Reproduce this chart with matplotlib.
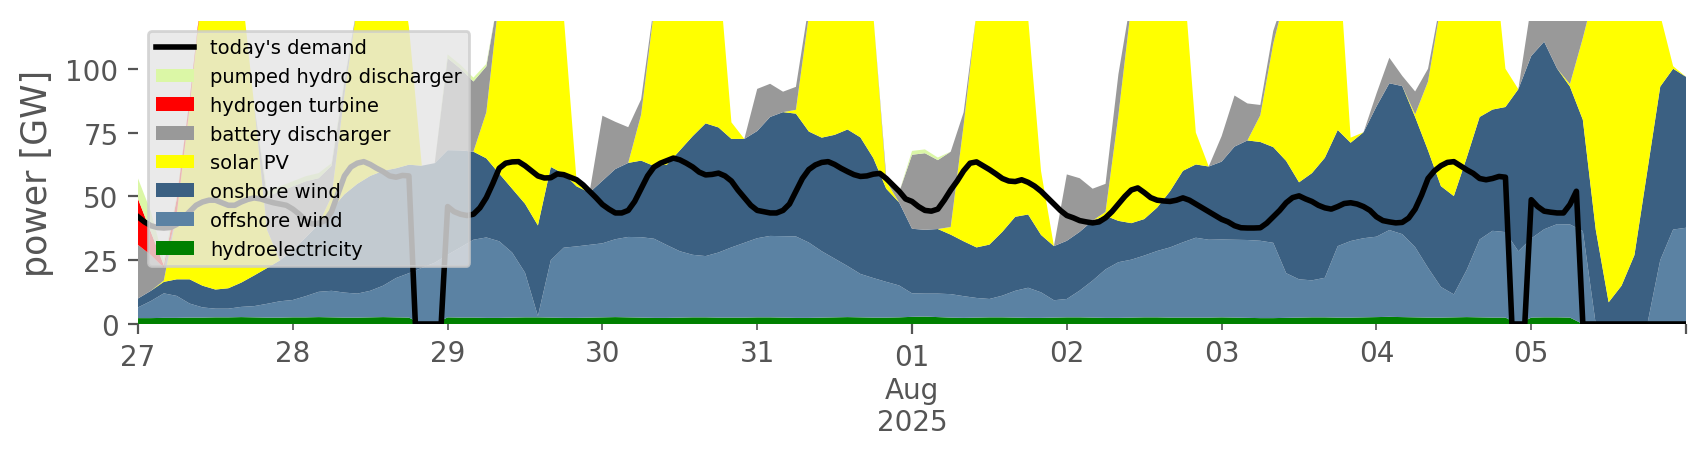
import pandas as pd
import matplotlib
matplotlib.use("Agg")
import matplotlib.pyplot as plt
import matplotlib.dates as mdates
from matplotlib.ticker import FixedLocator, FixedFormatter

# generation by source in GW, every 2 hours from 27 Jul 00:00 to 6 Aug 00:00
hydro = [2.3, 2.3, 2.4, 2.4, 2.5, 2.5, 2.6, 2.6, 2.7, 2.6, 2.5, 2.5,
         2.6, 2.6, 2.7, 2.6, 2.5, 2.5, 2.6, 2.7, 2.6, 2.5, 0, 0,
         2.6, 2.5, 2.5, 2.4, 2.4, 2.5, 2.6, 2.6, 2.5, 2.4, 2.4, 2.5,
         2.6, 2.7, 2.6, 2.5, 2.4, 2.4, 2.5, 2.6, 2.6, 2.5, 2.5, 2.5,
         2.6, 2.6, 2.5, 2.4, 2.4, 2.5, 2.6, 2.7, 2.6, 2.5, 2.5, 2.6,
         2.8, 2.9, 2.7, 2.5, 2.4, 2.5, 2.6, 2.6, 2.5, 2.4, 2.4, 2.5,
         2.6, 2.6, 2.5, 2.4, 2.4, 2.5, 2.6, 2.6, 2.5, 2.5, 2.5, 2.5,
         2.6, 2.5, 2.4, 2.3, 2.3, 2.4, 2.5, 2.6, 2.6, 2.5, 2.5, 2.6,
         2.7, 2.8, 2.7, 2.6, 2.5, 2.5, 2.6, 2.7, 2.6, 2.5, 2.5, 0,
         2.5, 2.6, 2.6, 2.5, 0, 0, 0, 0, 0, 0, 0, 0, 0]
offshore = [4.2, 6.7, 9.6, 8.6, 5.5, 4.0, 3.4, 3.4, 4.0, 4.4, 5.4, 6.4,
            6.8, 8.3, 9.9, 10.4, 9.8, 9.4, 10.4, 12.3, 15.4, 17.4, 22, 24,
            24.5, 27.5, 30.5, 31.5, 30, 25.5, 17.5, 0.5, 22.5, 27.5, 28, 28.5,
            29, 30.5, 31.5, 31.5, 31, 28.5, 26, 24.5, 24, 25.5, 27.5, 29.3,
            31, 31.9, 31.9, 31.9, 29.5, 26, 23, 20, 17, 15.5, 14, 12.5,
            9.2, 9, 9.2, 9.2, 8.5, 7.7, 7.2, 8.5, 10.5, 11.8, 10, 6.8,
            7.2, 10.5, 14.5, 19, 21.8, 22.7, 24.2, 26, 27.5, 29.5, 31.3, 30.5,
            30.5, 30.5, 30.5, 30.3, 29.5, 17.5, 15, 14.5, 15.5, 28, 30, 31,
            31.5, 34, 32.5, 27.5, 19.5, 12, 9, 18.5, 30.5, 34, 33.5, 28.5,
            31, 34.5, 36.5, 36.5, 36.4, 0, 0, 0, 0, 0, 25, 37, 37.7]
onshore = [3.5, 4, 4.5, 6.5, 9.5, 8.5, 7.5, 8, 9.5, 12, 14, 16,
           19.5, 23, 26.5, 32, 38.5, 43, 45, 45, 43, 42.5, 40, 39,
           41, 38, 34.5, 31, 26.5, 25, 27, 35.5, 36.5, 29, 23.5, 20.5,
           24.5, 27.5, 29, 30, 28.5, 31.5, 39.5, 46.5, 52, 49, 42.5, 40.7,
           42, 46.6, 48.6, 48.1, 43.5, 44.5, 48.5, 53.5, 53.5, 47, 36.5, 32.5,
           25.3, 25, 25.3, 23.3, 21.5, 19.8, 21.3, 25, 29, 28.7, 22.5, 21.2,
           22.8, 23, 23.5, 21, 16.2, 14.3, 14.3, 17, 22, 28, 28.7, 28.7,
           30.5, 36.5, 39, 38.7, 37.5, 44, 38, 42, 47, 45.5, 38.5, 41.5,
           51, 57.5, 58, 51, 46, 39.5, 38.5, 44, 48, 47.5, 49, 63.5,
           71.5, 73.5, 61, 54, 43.6, 37, 8.5, 15, 27, 60, 68, 63, 59.1]
solar = [0, 0, 0.5, 25.5, 67.5, 118, 115, 115, 117, 67, 15, 0,
         0, 0, 0, 5, 39, 70, 100, 104, 90, 54, 0, 0,
         0, 0, 0, 18, 69, 100, 108, 110, 100, 62, 2, 0,
         0, 0, 0, 18, 61, 95, 105, 108, 100, 63, 6.5, 0,
         0, 0, 0, 1.5, 45.5, 95, 105, 108, 100, 56, 3, 0,
         0, 0, 0, 3, 45.5, 92, 108, 110, 105, 77, 25, 0,
         0, 0, 0, 1.5, 41.5, 85.5, 100, 108, 108, 80, 12.5, 0,
         0, 0, 0, 10.5, 40.5, 66, 100, 108, 105, 74, 2, 0,
         0, 0, 0, 1, 27, 71, 100, 108, 105, 66, 15, 0,
         0, 0, 0, 1, 32, 95, 118, 115, 112, 105, 28, 1, 0]
battery = [21, 14, 5, 0, 0, 0, 0, 0, 0, 0, 13, 27,
           25, 22, 18, 12, 5, 0, 0, 0, 0, 0, 0, 0,
           36, 32, 27.5, 18, 2, 0, 0, 0, 0, 0, 0, 0,
           25.5, 18.5, 14, 6, 2, 0, 0, 0, 0, 0, 0, 0,
           16.5, 13, 8, 9, 4, 0, 0, 0, 0, 0, 2, 4,
           29, 30, 27, 29.5, 5, 0, 0, 0, 0, 0, 0, 0,
           26, 21, 12.5, 11, 16, 3, 0, 0, 0, 0, 0, 0,
           10, 20, 14.5, 4, 5, 0, 0, 0, 0, 0, 0, 0,
           5, 10, 4, 9, 5, 2, 0, 0, 0, 0, 0, 0,
           20, 24.5, 35, 36, 12, 0, 0, 0, 0, 0, 0, 0, 0]
hydrogen = [18, 9, 1, 6, 3, 0, 0, 0, 0, 0, 0, 0,
            0, 0, 0, 0, 0, 0, 0, 0, 0, 0, 0, 0,
            0, 0, 0, 0, 0, 0, 0, 0, 0, 0, 0, 0,
            0, 0, 0, 0, 0, 0, 0, 0, 0, 0, 0, 0,
            0, 0, 0, 0, 0, 0, 0, 0, 0, 0, 0, 0,
            0, 0, 0, 0, 0, 0, 0, 0, 0, 0, 0, 0,
            0, 0, 0, 0, 0, 0, 0, 0, 0, 0, 0, 0,
            0, 0, 0, 0, 0, 0, 0, 0, 0, 0, 0, 0,
            0, 0, 0, 0, 0, 0, 0, 0, 0, 0, 0, 0,
            0, 0, 0, 0, 0, 0, 0, 0, 0, 0, 0, 0, 0]
pumped = [8, 8, 2, 1, 0, 0, 0, 0, 0, 0, 2, 2,
          2, 2, 2, 1, 1, 0, 0, 0, 0, 0, 0, 0,
          1.5, 1.5, 1.5, 1, 0, 0, 0, 0, 0, 0, 0, 0,
          0, 0, 0, 0, 0, 0, 0, 0, 0, 0, 0, 0,
          0, 0, 0, 0, 0, 0, 0, 0, 0, 0, 0, 0,
          1.5, 1.5, 1, 0, 0, 0, 0, 0, 0, 0, 0, 0,
          0, 0, 0, 0, 0, 0, 0, 0, 0, 0, 0, 0,
          0, 0, 0, 0, 0, 0, 0, 0, 0, 0, 0, 0,
          0, 0, 0, 0, 0, 0, 0, 0, 0, 0, 0, 0,
          0, 0, 0, 0, 0, 0, 0, 0, 0, 0, 0, 0, 0]

# hourly demand in GW
demand = [42, 40, 38.5, 37.8, 37.6, 37.8, 39, 41.5, 44, 46.5, 47.8, 48.5,
          48.5, 47.5, 46.5, 46.5, 47.8, 48.8, 49.4, 49, 48.2, 47.5, 47, 46.5,
          45, 43, 40.5, 39.2, 39.5, 40.5, 44, 51, 58, 61.5, 63, 63.6,
          62.5, 61, 59.7, 58, 57.5, 58.2, 58, 0, 0, 0, 0, 0,
          46, 44, 43, 42.5, 43, 45.5, 49.5, 55, 61, 63, 63.5, 63.6,
          62, 60, 58, 57.2, 57.3, 58.8, 58.5, 57.5, 56.5, 54.5, 52, 49.5,
          46.8, 45, 43.5, 43.5, 44.5, 48, 53, 58, 61.5, 63, 64, 65,
          64.3, 63, 61.5, 59.5, 58.4, 58.6, 59.1, 58, 56, 52.5, 49.5, 46.5,
          44.5, 44, 43.5, 43.5, 44.5, 47, 52, 57, 60.5, 62.3, 63.3, 63.6,
          62.5, 61, 59.7, 58.5, 57.8, 58, 58.7, 59, 57, 54.5, 52, 49,
          48, 46, 44.5, 44.2, 45, 48.5, 52.5, 56, 60, 63, 63.5, 62,
          60.5, 58.8, 57, 56, 55.8, 56.5, 55.5, 54, 52, 49.5, 47, 44.5,
          42.5, 41.6, 40.5, 40, 39.6, 40, 41.6, 44, 47, 50, 52.5, 53.3,
          51.5, 49.5, 48.5, 48.2, 48, 48.5, 49.4, 48.5, 47, 45.5, 44, 42.5,
          41, 40, 38.5, 37.7, 37.6, 37.6, 37.7, 39.5, 42, 44.5, 47.5, 49.5,
          50.2, 49, 48, 46.5, 45.5, 45, 46, 47.2, 47.5, 47, 46, 44.5,
          42, 40.5, 40, 39.6, 39.8, 41.5, 45, 50.5, 57, 60, 62, 63.3,
          63.6, 62, 60.4, 59, 57, 56.5, 57, 57.8, 57.5, 0, 0, 0,
          48.7, 46, 44.2, 43.8, 43.5, 43.5, 46.8, 52, 0, 0, 0, 0,
          0, 0, 0, 0, 0, 0, 0, 0, 0, 0, 0, 0, 0]

area_index = pd.date_range("2025-07-27", periods=len(hydro), freq="2h")
demand_index = pd.date_range("2025-07-27", periods=len(demand), freq="h")

stack = [
    ("hydroelectricity", hydro, "green"),
    ("offshore wind", offshore, "#5b82a3"),
    ("onshore wind", onshore, "#3b6082"),
    ("solar PV", solar, "yellow"),
    ("battery discharger", battery, "#999999"),
    ("hydrogen turbine", hydrogen, "red"),
    ("pumped hydro discharger", pumped, "#dbf7a6"),
]

fig = plt.figure(figsize=(8.53, 2.3), dpi=200)
ax = fig.add_axes([0.0809, 0.2935, 0.9074, 0.6587])
ax.set_facecolor("white")

ax.stackplot(area_index.to_pydatetime(), *[s[1] for s in stack],
             labels=[s[0] for s in stack], colors=[s[2] for s in stack],
             linewidth=0)
ax.plot(demand_index.to_pydatetime(), demand, color="black", lw=2,
        label="today's demand")

days = pd.date_range("2025-07-27", "2025-08-06", freq="D").to_pydatetime()
major_days = [days[0], days[5], days[10]]
minor_days = [d for d in days if d not in major_days]
ax.xaxis.set_major_locator(FixedLocator(mdates.date2num(major_days)))
ax.xaxis.set_major_formatter(FixedFormatter(["27", "01\nAug\n2025", ""]))
ax.xaxis.set_minor_locator(FixedLocator(mdates.date2num(minor_days)))
ax.xaxis.set_minor_formatter(FixedFormatter([d.strftime("%d") for d in minor_days]))
ax.set_xlim(mdates.date2num(days[0]), mdates.date2num(days[-1]))

ax.set_ylim(0, 118.7)
ax.set_yticks([0, 25, 50, 75, 100])
ax.set_ylabel("power [GW]", fontsize=12.5, color="#555555")

ax.tick_params(axis="both", which="both", colors="#555555", labelsize=10, direction="out")
ax.tick_params(which="major", length=3.5)
ax.tick_params(which="minor", length=2)
for s in ax.spines.values():
    s.set_visible(False)

handles, labels = ax.get_legend_handles_labels()
order = [7, 6, 5, 4, 3, 2, 1, 0]
ax.legend([handles[i] for i in order], [labels[i] for i in order],
          loc="upper left", fontsize=7, facecolor="#E5E5E5",
          edgecolor="0.8", framealpha=0.8)

fig.savefig("out.png", dpi=200)
